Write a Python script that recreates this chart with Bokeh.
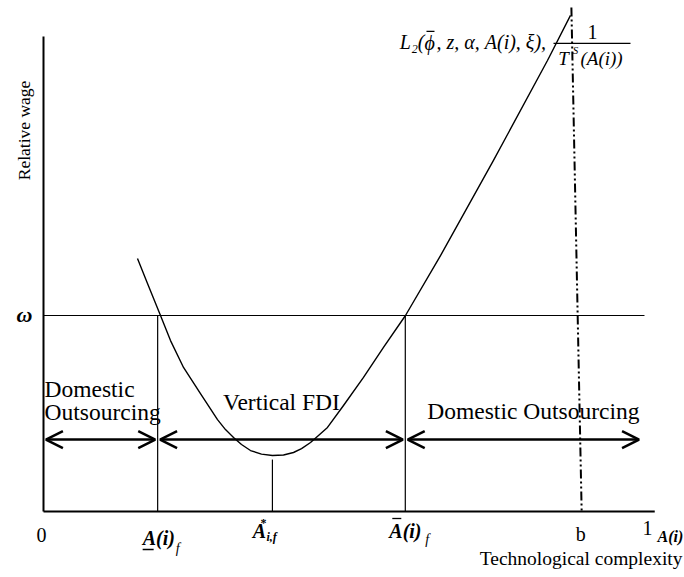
import math
from bokeh.plotting import figure
from bokeh.models import Arrow, OpenHead
from bokeh.core.properties import value
from bokeh.embed import file_html
from bokeh.resources import INLINE

# ---------------- data (x: technological complexity A(i) in [0,1]; y: relative wage, omega = 1) ----
omega = 1.0
A_low = 0.189      # A(i)_f (lower threshold)
A_star = 0.379     # A*_{i,f} (minimum of the curve)
A_high = 0.599     # upper threshold
b_line_x = [0.874, 0.891]   # dash-dot line (top, bottom)
b_line_y = [2.571, 0.0]
x_axis_end = 1.012
y_axis_top = 2.423
omega_line_end = 0.995
arrow_level = 0.367
A_star_tick_top = 0.265

curve_x = [0.1556, 0.1722, 0.1937, 0.2103, 0.2318, 0.2599, 0.2881, 0.3013, 0.3146, 0.3278,
           0.3427, 0.3609, 0.3791, 0.3974, 0.4139, 0.4272, 0.4421, 0.4553, 0.4702, 0.4967,
           0.5298, 0.5629, 0.5993, 0.6573, 0.7450, 0.8344, 0.8725]
curve_y = [1.291, 1.163, 1.000, 0.872, 0.735, 0.602, 0.469, 0.418, 0.378, 0.342,
           0.311, 0.293, 0.286, 0.288, 0.301, 0.321, 0.352, 0.388, 0.429, 0.541,
           0.684, 0.837, 1.000, 1.306, 1.791, 2.301, 2.531]

region_start = [0.0, A_low, A_high]
region_end = [A_low, A_high, 0.990]

FONT = value("Liberation Serif")

# ---------------- figure: frame covers whole canvas ----------------
W, H = 684, 577
px_per_x = 604.0
px_per_y = 196.0
x0_px, y0_px = 43.0, 511.0   # canvas position of the origin


def dx_data(px):
    return px / px_per_x


p = figure(width=W, height=H, output_backend="svg", toolbar_location=None,
           x_range=((0 - x0_px) / px_per_x, (W - x0_px) / px_per_x),
           y_range=((y0_px - H) / px_per_y, y0_px / px_per_y),
           x_axis_location=None, y_axis_location=None, min_border=0)
p.grid.visible = False
p.outline_line_color = None
p.background_fill_color = "white"
p.border_fill_color = "white"

# axes
p.line([0, 0], [0, y_axis_top], line_color="black", line_width=2)
p.line([0, x_axis_end], [0, 0], line_color="black", line_width=2)
# wage line
p.line([0, omega_line_end], [omega, omega], line_color="black", line_width=1.2)
# thresholds
p.line([A_low, A_low], [0, omega], line_color="black", line_width=1.2)
p.line([A_high, A_high], [0, omega], line_color="black", line_width=1.2)
p.line([A_star, A_star], [0, A_star_tick_top], line_color="black", line_width=1.2)
# curve
p.line(curve_x, curve_y, line_color="black", line_width=1.4, line_join="round")
# dash-dot line
p.line(b_line_x, b_line_y, line_color="black", line_width=2, line_dash="9 3 2 3 2 3")

# arrows
gap = 0.004
for s, e in zip(region_start, region_end):
    p.add_layout(Arrow(x_start=s + gap, y_start=arrow_level, x_end=e - gap, y_end=arrow_level,
                       line_width=2.5, line_color="black",
                       start=OpenHead(size=17, line_width=2.5, line_color="black"),
                       end=OpenHead(size=17, line_width=2.5, line_color="black")))


def label(x, y, t, size, style="normal", align="center", baseline="middle", dx=0, dy=0, angle=0.0):
    p.text(x=[x], y=[y], text=[t], text_font=FONT, text_font_size=f"{size}px",
           text_font_style=style, text_align=align, text_baseline=baseline,
           x_offset=dx, y_offset=dy, angle=angle, text_color="black")


def bar(x, y, dx0, dx1, dy):
    # short decorative bar (underline / overline / fraction bar) placed in pixels relative to (x, y)
    yy = y - dy / px_per_y
    p.line([x + dx_data(dx0), x + dx_data(dx1)], [yy, yy], line_color="black", line_width=1.3)

# axis titles
label(0, 1.944, "Relative wage", 17.5, dx=-20, angle=math.pi / 2)
label(1.0, 0, "Technological complexity", 19.5, align="right", dx=35, dy=47)
# omega
label(0, omega, "ω", 22, style="bold italic", dx=-19, dy=-1)
# bottom labels
label(0, 0, "0", 20, dx=-2, dy=23)
label(A_low, 0, "A(i)", 20, style="bold italic", align="left", baseline="alphabetic", dx=-15, dy=26)
bar(A_low, 0, -15, -4, 38)
label(A_low, 0, "f", 14, style="italic", align="left", dx=18, dy=37)
label(A_star, 0, "A", 20, style="bold italic", dx=-13, dy=19)
label(A_star, 0, "*", 12, style="bold", dx=-9, dy=11)
label(A_star, 0, "i,f", 12, style="bold italic", align="left", dx=-6, dy=25)
label(A_high, 0, "A(i)", 20, style="bold italic", align="left", baseline="alphabetic", dx=-16, dy=19)
bar(A_high, 0, -13, -4, 7)
label(A_high, 0, "f", 14, style="italic", align="left", dx=20, dy=28)
label(b_line_x[1], 0, "b", 20, dx=-1, dy=22)
label(1.0, 0, "1", 20, dy=16)
label(1.0, 0, "A(i)", 16, style="bold italic", align="left", dx=10, dy=25)
# region labels
label(0, arrow_level, "Domestic", 23.5, align="left", baseline="alphabetic", dx=1, dy=-51)
label(0, arrow_level, "Outsourcing", 23.5, align="left", baseline="alphabetic", dx=1, dy=-28)
label((A_low + A_high) / 2, arrow_level, "Vertical FDI", 23.5, baseline="alphabetic", dy=-38)
label(A_high, arrow_level, "Domestic Outsourcing", 23.5, align="left", baseline="alphabetic", dx=22, dy=-29)

# curve label at top (anchored at the top end of the curve)
tx, ty = curve_x[-1], curve_y[-1]
label(tx, ty, "L\u2082(", 20, style="italic", align="right", dx=-146, dy=27)
label(tx, ty, "\u03d5", 20, style="italic", align="left", dx=-146, dy=28)
bar(tx, ty, -144, -136, 16)
label(tx, ty, ", z, α, A(i), ξ),", 20, style="italic", align="left", dx=-134, dy=27)
label(tx, ty, "1", 20, dx=22, dy=17)
bar(tx, ty, -17, 60, 28)
label(tx, ty, "T", 19, style="italic", dx=-7, dy=43)
label(tx, ty, "S", 11, style="italic", dx=5, dy=35)
label(tx, ty, "(A(i))", 19, style="italic", align="left", dx=10, dy=43)

open("out.html", "w").write(file_html(p, INLINE))
